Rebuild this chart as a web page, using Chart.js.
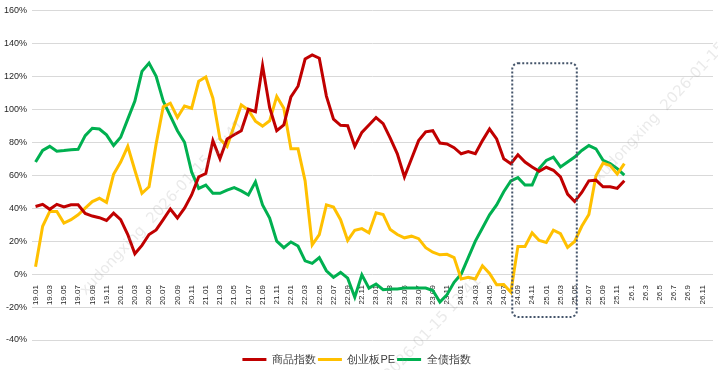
<!DOCTYPE html>
<html>
<head>
<meta charset="utf-8">
<script src="https://cdn.jsdelivr.net/npm/chart.js@4/dist/chart.umd.min.js"></script>
<style>
  html, body { margin: 0; padding: 0; background: #fff; }
  #wrap { width: 718px; height: 370px; }
</style>
</head>
<body>
<div id="wrap"><canvas id="chart"></canvas></div>
<script>
// monthly categories 19.01 .. 26.12 (2026 written as 26.1, 26.2 ...)
const years = ['19', '20', '21', '22', '23', '24', '25', '26'];
const months = [];
years.forEach(y => {
    for (let m = 1; m <= 12; m++) {
        if (y === '26') months.push(y + '.' + m);
        else months.push(y + '.' + (m < 10 ? '0' + m : m));
    }
});

const yTicks = [-40, -20, 0, 20, 40, 60, 80, 100, 120, 140, 160];

const commodity = [41, 42.3, 39.3, 42.3, 40.7, 42, 42, 36.8, 35.2, 34.2, 32.5, 37,
    33, 24, 12.3, 17.4, 24, 26.8, 33, 39.5, 34, 40, 48, 59,
    61, 81, 70, 82, 84.5, 87, 100, 98.5, 126.5, 101, 87, 90.5,
    107.5, 114, 130.5, 133, 131, 108, 94, 90.3, 90, 77.5, 86, 90.5,
    95, 91.3, 82.5, 73, 59, 70, 81, 86.3, 87, 79.5, 79, 76.7,
    73, 74.3, 73, 81, 88, 82, 70, 67, 72.4, 68, 65, 62.4,
    64.8, 63, 59, 48.5, 44, 49.5, 56.6, 57, 53, 53, 52, 56.6];

const gemPE = [4.5, 29, 38, 38, 31, 33, 36, 40, 44, 46, 43.5, 60.5,
    68, 77.5, 63, 49, 53, 79, 101.5, 103.7, 95, 102, 100.6, 117,
    119.6, 106.7, 82, 77.5, 90, 102.7, 99.6, 92.8, 89.8, 93, 107.8, 100.6,
    76, 76, 56.6, 17.8, 24, 42, 40.7, 33, 20.4, 26.6, 27.6, 25,
    37.2, 36.2, 27, 24, 22, 23, 21.5, 16, 13.3, 11.7, 12, 10,
    -3, -2, -3, 5, 0.4, -6.5, -6.3, -11, 16.8, 16.8, 25, 20.4,
    19.2, 26.6, 24.5, 16.2, 19.8, 29, 36.2, 59.7, 67.3, 65.8, 60.7, 67];

const bond = [68, 75, 77.5, 74.6, 75, 75.5, 75.7, 84, 88.5, 88, 84.5, 78,
    83, 94, 105, 123, 128, 120, 105, 96, 87, 80, 62, 52,
    54, 49, 49, 51, 52.5, 50.5, 48, 56, 42, 34, 20, 16,
    19.5, 17, 8, 6.5, 10, 2, -2, 1, -2.5, -14, -0.5, -8.5,
    -6, -9.5, -9, -9, -8.5, -8.5, -8.5, -8.5, -10, -17, -12.5, -5,
    0, 10, 20, 28, 36, 42, 50, 56.5, 58.5, 54, 54, 64,
    69, 71, 65, 68, 71, 75, 78, 76, 69, 67, 64, 60];

// highlighted window (category index / percent)
const highlight = { from: 67.2, to: 76.3, top: 128, bottom: -26 };

const watermark = 'xudongxing  2026-01-15 13:41';

const highlightBox = {
    id: 'highlightBox',
    afterDatasetsDraw(chart) {
        const {ctx, scales: {x, y}} = chart;
        const left = x.getPixelForValue(highlight.from);
        const right = x.getPixelForValue(highlight.to);
        const top = y.getPixelForValue(highlight.top);
        const bottom = y.getPixelForValue(highlight.bottom);
        ctx.save();
        ctx.strokeStyle = '#44546a';
        ctx.lineWidth = 2;
        ctx.setLineDash([2, 2]);
        ctx.beginPath();
        ctx.roundRect(left, top, right - left, bottom - top, 6);
        ctx.stroke();
        ctx.restore();
    }
};

// faint diagonal stamp over the picture
const stamp = {
    id: 'stamp',
    afterDraw(chart) {
        const ctx = chart.ctx;
        ctx.save();
        ctx.fillStyle = 'rgba(150, 150, 150, 0.2)';
        ctx.font = '15px "DejaVu Sans"';
        ctx.textBaseline = 'middle';
        [[83, 293], [320, 449], [597, 180]].forEach(p => {
            ctx.save();
            ctx.translate(p[0], p[1]);
            ctx.rotate(-47 * Math.PI / 180);
            ctx.fillText(watermark, 0, 0);
            ctx.restore();
        });
        ctx.restore();
    }
};

function line(label, data, color) {
    return {
        label: label,
        data: data,
        borderColor: color,
        backgroundColor: color,
        borderWidth: 3,
        pointRadius: 0,
        tension: 0,
        fill: false
    };
}

new Chart(document.getElementById('chart'), {
    type: 'line',
    data: {
        labels: months,
        datasets: [
            line('商品指数', commodity, '#c00000'),
            line('创业板PE', gemPE, '#ffc000'),
            line('全债指数', bond, '#00b050')
        ]
    },
    options: {
        responsive: true,
        maintainAspectRatio: false,
        animation: false,
        layout: {
            padding: { top: 6, right: 5, left: 0, bottom: -5 }
        },
        plugins: {
            legend: {
                position: 'bottom',
                title: {
                    display: true,
                    text: '',
                    padding: 0,
                    font: { size: 10 }
                },
                labels: {
                    usePointStyle: true,
                    pointStyle: 'line',
                    pointStyleWidth: 24,
                    padding: 2,
                    color: '#404040',
                    font: { family: 'Liberation Sans, Arial', size: 11 }
                }
            },
            tooltip: { enabled: false }
        },
        scales: {
            x: {
                position: { y: 0 },
                offset: true,
                afterFit: function (scale) {
                    scale.paddingLeft = 0;
                    scale.paddingRight = 0;
                },
                grid: { display: false },
                border: { display: false },
                ticks: {
                    autoSkip: false,
                    maxRotation: 90,
                    minRotation: 90,
                    padding: 3,
                    color: '#262626',
                    font: { family: 'Liberation Sans, Arial', size: 8 },
                    callback: function (v, i) {
                        return i % 2 === 0 ? months[i] : '';
                    }
                }
            },
            y: {
                min: yTicks[0],
                max: yTicks[yTicks.length - 1],
                afterBuildTicks: function (scale) {
                    scale.ticks = yTicks.map(v => ({ value: v }));
                },
                afterFit: function (scale) {
                    scale.width = 32;
                },
                grid: { color: '#d9d9d9', lineWidth: 1, drawTicks: false },
                border: { display: false },
                ticks: {
                    padding: 5,
                    color: '#262626',
                    font: { family: 'Liberation Sans, Arial', size: 9 },
                    callback: v => v + '%'
                }
            }
        }
    },
    plugins: [highlightBox, stamp]
});
</script>
</body>
</html>
